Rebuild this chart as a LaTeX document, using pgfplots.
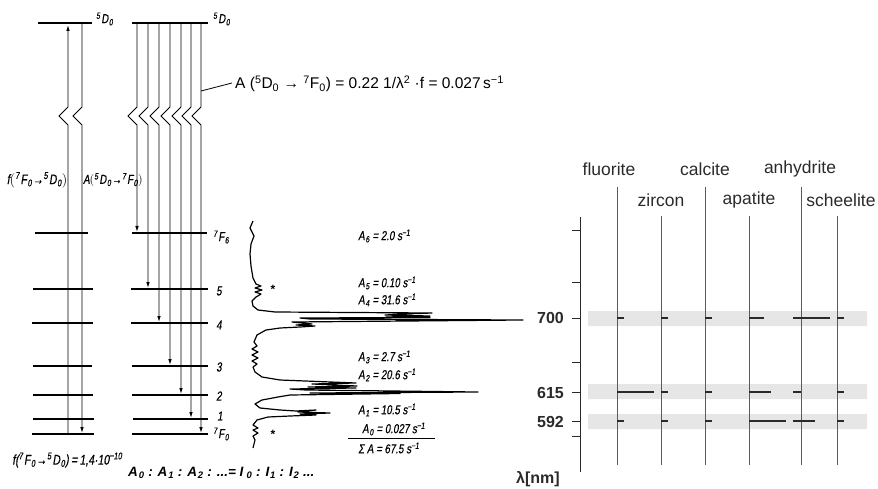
\documentclass[border=0pt]{standalone}
\usepackage{pgfplots}
\pgfplotsset{compat=1.18}
\usepackage{fontspec}
\setmainfont{Liberation Sans}
\newfontfamily\hwfont[FakeStretch=0.75, FakeSlant=0.16, FakeBold=0.5]{Liberation Sans}
\usetikzlibrary{arrows.meta}
\definecolor{band}{HTML}{E6E6E6}
\definecolor{ink}{HTML}{2A2A2A}
\definecolor{stem}{HTML}{5A5A5A}
\newcommand{\term}[3]{\textsuperscript{#1}\kern0.8pt#2\kern0.6pt\textsubscript{#3}}
\newcommand{\sub}[1]{\kern0.8pt\textsubscript{#1}}
\tikzset{
  hw/.style={font=\fontsize{13}{15}\selectfont\hwfont, inner sep=0pt},
  sans/.style={font=\fontsize{17.5}{20}\selectfont, text=ink, inner sep=0pt},
  tickl/.style={font=\fontsize{16}{18}\selectfont\bfseries, text=ink, inner sep=0pt},
}
\begin{document}
\begin{tikzpicture}
\begin{axis}[
    scale only axis,
    width=878pt, height=489pt,
    xmin=0, xmax=878, ymin=0, ymax=489,
    y dir=reverse,
    hide axis,
    clip=false,
    unbounded coords=jump,
    level/.style={black, line width=2.3pt},
    trans/.style={black, line width=0.9pt},
    arr/.style={trans, -{Latex[length=6pt,width=3.6pt]}},
  ]
% keep the full canvas as the bounding box
\path (axis cs:0,0) rectangle (axis cs:878,489);

% ---- energy levels, left panel
\addplot[level] coordinates {(38,23) (92,23) (nan,nan) (35,233) (88,233) (nan,nan)
  (33,289) (93,289) (nan,nan) (32,323) (93,323) (nan,nan) (33,366) (92,366) (nan,nan)
  (33,395) (93,395) (nan,nan) (33,419) (94,419) (nan,nan) (32,434) (94,434)};
% ---- energy levels, right panel
\addplot[level] coordinates {(132,23) (208,23) (nan,nan) (132,233) (207,233) (nan,nan)
  (131,289) (208,289) (nan,nan) (131,323) (208,323) (nan,nan) (132,366) (208,366) (nan,nan)
  (132,395) (208,395) (nan,nan) (133,419) (208,419) (nan,nan) (132,434) (208,434)};

% absorption and emission, left panel
\addplot[arr] coordinates {(68,434) (68,125) (59,116) (68,107) (68,25)};
\addplot[arr] coordinates {(82,23) (82,107) (73,116) (82,125) (82,433)};

% emission 5D0 -> 7FJ
\addplot[arr] coordinates {(137,23) (137,107) (128,116) (137,125) (137,232)};
\addplot[arr] coordinates {(148,23) (148,107) (139,116) (148,125) (148,288)};
\addplot[arr] coordinates {(159,23) (159,107) (150,116) (159,125) (159,322)};
\addplot[arr] coordinates {(170,23) (170,107) (161,116) (170,125) (170,365)};
\addplot[arr] coordinates {(181,23) (181,107) (172,116) (181,125) (181,394)};
\addplot[arr] coordinates {(191,23) (191,107) (182,116) (191,125) (191,418)};
\addplot[arr] coordinates {(201,23) (201,107) (192,116) (201,125) (201,433)};
\addplot[black, line width=0.8pt] coordinates {(201,91) (232,83)};

% ---- emission spectrum (intensity to the right, wavelength downwards)
\addplot[black, line width=1.2pt, line join=round] coordinates {
  (253,221) (250,228) (254,236) (251,244) (250,254) (251,266) (253,278) (256,284)
  (261,286) (255,288) (262,290) (255,292) (261,294) (256,297) (252,301) (253,306)
  (258,310) (275,312) (432,313) (404,314) (385,315) (430,316) (386,317) (430,317.5) (300,318)
  (310,319) (523,320) (292,322) (312,324) (296,325) (315,326) (300,327) (280,328)
  (266,330) (257,335) (254,342) (257,346) (252,349) (258,352) (252,355) (258,358)
  (252,361) (257,364) (253,367) (255,372) (262,377) (280,380) (356,383) (312,384)
  (357,386) (308,387) (356,388) (290,389) (306,390) (478,392) (310,393) (400,393.5) (290,395) (278,397)
  (262,400) (255,404) (260,408) (280,410) (296,411) (316,410) (298,412) (330,413)
  (300,414) (316,415) (290,416) (268,417) (257,420) (253,425) (258,428) (253,430)
  (258,433) (253,436) (255,440) (253,448)};
\addplot[black, line width=0.7pt] coordinates {(348,438) (435,438)};

% ---- right panel: bands, scale, mineral lines
\addplot[fill=band, draw=none] coordinates {(588,311) (867,311) (867,326) (588,326) (588,311)};
\addplot[fill=band, draw=none] coordinates {(588,384) (867,384) (867,399) (588,399) (588,384)};
\addplot[fill=band, draw=none] coordinates {(588,414) (867,414) (867,429) (588,429) (588,414)};

\addplot[ink, line width=1pt] coordinates {(580,217) (580,472)};
\addplot[ink, line width=1pt] coordinates {(572,231) (580,231) (nan,nan) (572,282) (580,282)
  (nan,nan) (572,318) (580,318) (nan,nan) (572,362) (580,362) (nan,nan) (572,392) (580,392)
  (nan,nan) (572,421) (580,421) (nan,nan) (572,436) (580,436)};

\addplot[stem, line width=1pt] coordinates {(617,187) (617,465) (nan,nan) (705,187) (705,465)
  (nan,nan) (801,187) (801,465)};
\addplot[stem, line width=1pt] coordinates {(661,216) (661,465) (nan,nan) (749,216) (749,465)
  (nan,nan) (837,216) (837,465)};

% relative intensities at 700, 615 and 592 nm
\addplot[ink, line width=1.3pt] coordinates {
  (617,318) (624,318) (nan,nan) (661,318) (668,318) (nan,nan) (705,318) (712,318) (nan,nan)
  (749,318) (764,318) (nan,nan) (793,318) (830,318) (nan,nan) (837,318) (844,318) (nan,nan)
  (617,392) (654,392) (nan,nan) (661,392) (668,392) (nan,nan) (705,392) (712,392) (nan,nan)
  (749,392) (771,392) (nan,nan) (793,392) (801,392) (nan,nan) (837,392) (844,392) (nan,nan)
  (617,421) (624,421) (nan,nan) (661,421) (668,421) (nan,nan) (705,421) (712,421) (nan,nan)
  (749,421) (786,421) (nan,nan) (793,421) (815,421) (nan,nan) (837,421) (844,421)};

% ---- texts, left part
\node[hw, anchor=west] at (96,19) {\term{5}{D}{0}};
\node[hw, anchor=west] at (213,19) {\term{5}{D}{0}};
\node[hw, anchor=west] at (213,237) {\term{7}{F}{6}};
\node[hw, anchor=west] at (216,291) {5};
\node[hw, anchor=west] at (216,325) {4};
\node[hw, anchor=west] at (216,367) {3};
\node[hw, anchor=west] at (216,396) {2};
\node[hw, anchor=west] at (217,416) {1};
\node[hw, anchor=west] at (213,434) {\term{7}{F}{0}};
\node[hw, font=\fontsize{14}{16}\selectfont\hwfont] at (37,180) {f\big(\term{7}{F}{0}\kern0.5pt→\kern0.5pt\term{5}{D}{0}\big)};
\node[hw, anchor=west] at (83,180) {A\big(\term{5}{D}{0}\kern0.5pt→\kern0.5pt\term{7}{F}{0}\big)};
\node[hw, anchor=west, font=\fontsize{14}{16}\selectfont\hwfont] at (12,460)
  {f(\term{7}{F}{0}\kern0.5pt→\kern0.5pt\term{5}{D}{0})\,=\,1,4·10\textsuperscript{−10}};
\node[anchor=west, inner sep=0pt, font=\fontsize{13.5}{15}\selectfont\bfseries\itshape] at (128,473)
  {A\sub{0} : A\sub{1} : A\sub{2} : ...= I\,\sub{0} : I\sub{1} : I\sub{2} ...};
\node[anchor=west, inner sep=0pt, font=\fontsize{15.5}{18}\selectfont] at (235,84)
  {A (\textsuperscript{5}D\textsubscript{0} → \textsuperscript{7}F\textsubscript{0}) = 0.22 1/λ\textsuperscript{2} ·f = 0.027\,s\textsuperscript{−1}};

\node[hw, anchor=west] at (358,236) {A\sub{6} = 2.0 s\textsuperscript{−1}};
\node[hw, anchor=west] at (358,283) {A\sub{5} = 0.10 s\textsuperscript{−1}};
\node[hw, anchor=west] at (358,300) {A\sub{4} = 31.6 s\textsuperscript{−1}};
\node[hw, anchor=west] at (358,357) {A\sub{3} = 2.7 s\textsuperscript{−1}};
\node[hw, anchor=west] at (358,375) {A\sub{2} = 20.6 s\textsuperscript{−1}};
\node[hw, anchor=west] at (358,410) {A\sub{1} = 10.5 s\textsuperscript{−1}};
\node[hw, anchor=west] at (362,429) {A\sub{0} = 0.027 s\textsuperscript{−1}};
\node[hw, anchor=west] at (358,448) {Σ A = 67.5 s\textsuperscript{−1}};
\node[font=\fontsize{12}{12}\selectfont\bfseries, inner sep=0pt] at (273,289) {*};
\node[font=\fontsize{12}{12}\selectfont\bfseries, inner sep=0pt] at (273,434) {*};

% ---- texts, right part
\node[tickl, anchor=east] at (564,318) {700};
\node[tickl, anchor=east] at (564,393) {615};
\node[tickl, anchor=east] at (564,422) {592};
\node[tickl] at (538,479) {λ[nm]};
\node[sans] at (609,169) {fluorite};
\node[sans] at (705,169) {calcite};
\node[sans] at (800,169) {anhydrite};
\node[sans] at (661,200) {zircon};
\node[sans] at (749,200) {apatite};
\node[sans] at (841,200) {scheelite};
\end{axis}
\end{tikzpicture}
\end{document}
